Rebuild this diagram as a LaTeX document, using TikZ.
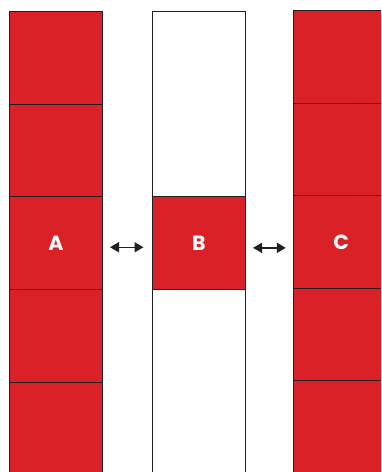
\documentclass[tikz,border=0pt]{standalone}
\usepackage{fontspec}
\setmainfont{Poppins}
\usetikzlibrary{arrows.meta}
\definecolor{cellred}{HTML}{DA2128}
\definecolor{edge}{HTML}{231F20}
\newcommand{\lowered}[1]{\raisebox{-3.5pt}{#1}}
\begin{document}
\begin{tikzpicture}[x=1pt,y=-1pt,
  cell/.style={draw=edge,line width=1pt,fill=cellred,minimum width=93pt,minimum height=92.7pt,inner sep=0pt,anchor=north west,text=white,font=\bfseries\fontsize{20.5}{21}\selectfont},
  empty/.style={cell,fill=white},
  dbl/.style={{Triangle[length=9pt,width=10pt]}-{Triangle[length=9pt,width=10pt]},line width=1.5pt,draw=edge}]
\useasboundingbox (0,0) rectangle (381,472);
\begin{scope}
\clip (0,0) rectangle (381,472);
% column A
\node[cell] (a1) at (9,11) {};
\node[cell] (a2) at (9,103.7) {};
\node[cell] (a3) at (9,196.4) {\lowered{A}};
\node[cell] (a4) at (9,289.1) {};
\node[cell,minimum height=110pt] (a5) at (9,381.8) {};
% column B
\node[empty,minimum height=185pt] (b1) at (152,11) {};
\node[empty,minimum height=200pt] (b3) at (152,288.7) {};
\node[cell] (b2) at (152,196) {\lowered{B}};
% column C
\node[cell] (c1) at (293.3,10) {};
\node[cell] (c2) at (293.3,102.5) {};
\node[cell] (c3) at (293.3,195) {\hspace{2pt}\lowered{C}};
\node[cell] (c4) at (293.3,287.5) {};
\node[cell,minimum height=110pt] (c5) at (293.3,380) {};
\end{scope}
% arrows
\draw[dbl] ([xshift=7pt,yshift=-4pt]a3.east) -- ([xshift=-8.5pt,yshift=-4pt]a3.east -| b2.west);
\draw[dbl] ([xshift=7pt,yshift=-5pt]b2.east) -- ([xshift=-7.5pt,yshift=-5pt]b2.east -| c3.west);
\end{tikzpicture}
\end{document}
